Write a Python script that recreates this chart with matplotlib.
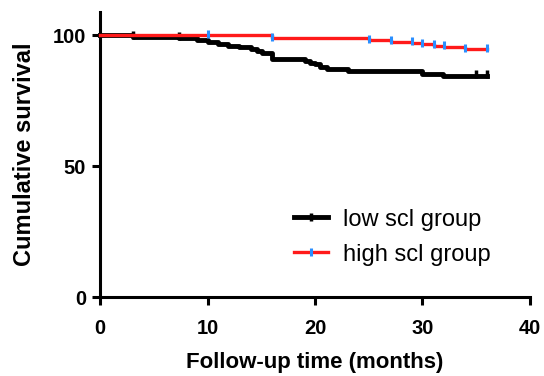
import numpy as np
import matplotlib
matplotlib.use('Agg')
import matplotlib.pyplot as plt
from matplotlib.lines import Line2D

plt.rcParams['font.family'] = ['Liberation Sans', 'DejaVu Sans']

# low scl group (black) - step times and survival after each step
low_t = [0, 3.1, 7.3, 9.0, 10.0, 11.0, 11.9, 12.9, 14.0, 14.6, 15.1, 16.0,
         19.1, 19.5, 20.0, 20.5, 21.1, 23.1, 30.0, 31.9, 36.0]
low_s = [100, 99.3, 98.7, 98.0, 97.4, 96.7, 96.0, 95.3, 94.6, 94.0, 93.3, 91.0,
         90.2, 89.5, 88.8, 88.0, 87.2, 86.3, 85.3, 84.4, 84.4]
low_cens_t = [3.1, 7.3, 35.0, 36.0]
low_cens_s = [99.3, 98.7, 84.4, 84.4]

# high scl group (red)
high_t = [0, 16.0, 25.0, 27.1, 29.0, 30.0, 31.1, 32.0, 34.0, 36.0]
high_s = [100, 98.8, 98.0, 97.5, 97.0, 96.5, 96.0, 95.5, 94.6, 94.6]
high_cens_t = [10.0, 16.0, 25.0, 27.1, 29.0, 30.0, 31.1, 32.0, 34.0, 36.0]
high_cens_s = [100, 98.8, 98.0, 97.5, 97.0, 96.5, 96.0, 95.5, 94.6, 94.6]

blue = '#2a8fff'

fig = plt.figure(figsize=(5.44, 3.76), dpi=100)
ax = fig.add_axes([0.184, 0.21, 0.79, 0.758])

ax.step(low_t, low_s, where='post', color='black', lw=3.5, zorder=3, clip_on=False)
ax.plot(low_cens_t, np.array(low_cens_s) + 0.8, ls='none', marker='|', color='black',
        ms=6, mew=2.5, zorder=3, clip_on=False)
ax.step(high_t, high_s, where='post', color='#ff1a1a', lw=2.4, zorder=4, clip_on=False)
ax.plot(high_cens_t, np.array(high_cens_s) + 0.6, ls='none', marker='|', color=blue,
        ms=6, mew=2.2, zorder=5, clip_on=False)

ax.set_xlim(0, 40)
ax.set_ylim(0, 108.8)
ax.set_xticks([0, 10, 20, 30, 40])
ax.set_yticks([0, 50, 100])
for s in ['top', 'right']:
    ax.spines[s].set_visible(False)
for s in ['left', 'bottom']:
    ax.spines[s].set_linewidth(2.2)
ax.tick_params(width=2.2, length=6, labelsize=14.5)
ax.tick_params(axis='x', pad=10)
ax.tick_params(axis='y', pad=4)
for lab in ax.get_xticklabels() + ax.get_yticklabels():
    lab.set_fontweight('bold')

ax.set_xlabel('Follow-up time (months)', fontsize=16, fontweight='bold', labelpad=10)
ax.set_ylabel('Cumulative survival', fontsize=17, fontweight='bold', labelpad=12)

h1 = Line2D([], [], color='black', lw=3.5, marker='|', ms=6, mew=2.5, markevery=[0])
h2 = Line2D([], [], color='#ff1a1a', lw=2.4, marker='|', ms=6, mew=2.2,
            markeredgecolor=blue, markevery=[0])
ax.legend([h1, h2], ['low scl group', 'high scl group'], loc='upper left',
          bbox_to_anchor=(0.451, 0.31), frameon=False, fontsize=17, borderpad=0,
          borderaxespad=0, handlelength=1.45, handletextpad=0.64, labelspacing=0.55)

fig.savefig('out.png', dpi=100)
